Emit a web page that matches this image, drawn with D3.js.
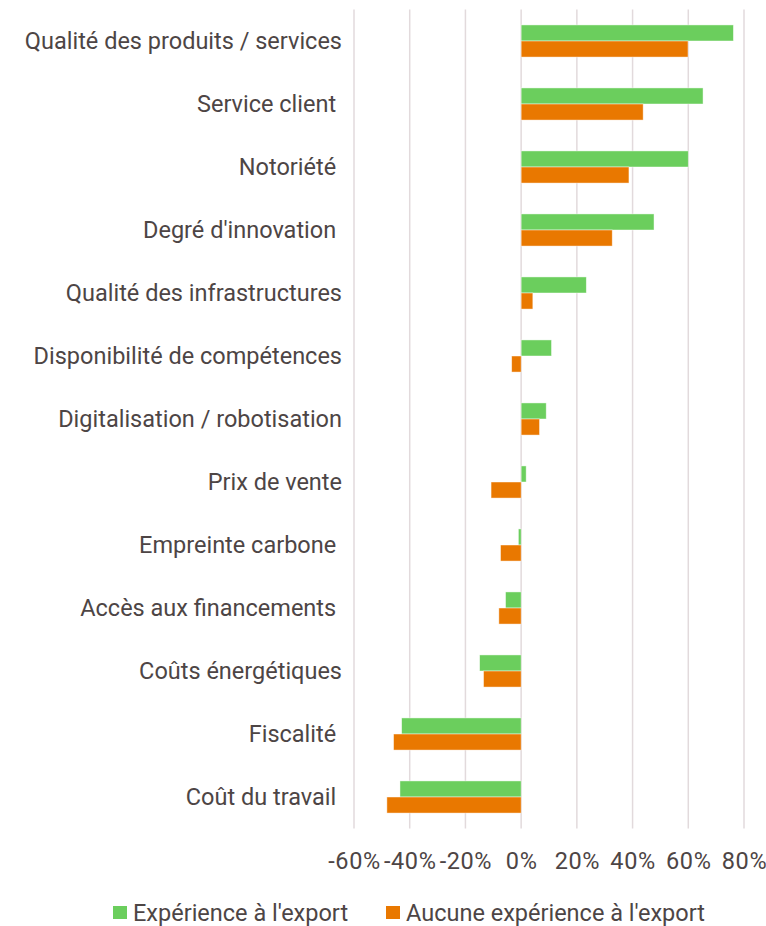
<!DOCTYPE html>
<html>
<head>
<meta charset="utf-8">
<script src="https://cdn.jsdelivr.net/npm/d3@7"></script>
<style>
  html, body { margin: 0; padding: 0; background: #fff; }
  svg text { font-family: Roboto, "Open Sans", sans-serif; fill: #4d4545; white-space: pre; }
</style>
</head>
<body>
<div id="chart"></div>
<script>
// --- Data ---
const categories = [
  "Qualité des produits / services",
  "Service client ",
  "Notoriété ",
  "Degré d'innovation ",
  "Qualité des infrastructures",
  "Disponibilité de compétences",
  "Digitalisation / robotisation",
  "Prix de vente",
  "Empreinte carbone ",
  "Accès aux financements ",
  "Coûts énergétiques",
  "Fiscalité ",
  "Coût du travail "
];
const seriesNames = ["Expérience à l'export", "Aucune expérience à l'export"];
const withExport =    [76.2, 65.3, 60.0, 47.7, 23.4, 10.9, 9.0, 1.8, -1.0, -5.6, -14.9, -42.9, -43.5];
const withoutExport = [59.9, 43.8, 38.7, 32.7, 4.2, -3.4, 6.6, -10.8, -7.4, -8.0, -13.5, -45.8, -48.2];
const tickValues = [-60, -40, -20, 0, 20, 40, 60, 80];
const colors = ["#6bce5d", "#e97800"];

// --- Layout ---
const width = 766, height = 926;
const plot = { left: 354, right: 744, top: 9.5, bottom: 828.5 };
const fontSize = 23.5;

const svg = d3.select("#chart").append("svg")
  .attr("width", width)
  .attr("height", height);

const x = d3.scaleLinear().domain([-60, 80]).range([plot.left, plot.right]);
const y = d3.scaleBand().domain(categories).range([plot.top, plot.bottom]).paddingInner(0.49).paddingOuter(0.245);
const ySeries = d3.scaleBand().domain([0, 1]).range([0, y.bandwidth()]);

// gridlines
svg.append("g").selectAll("line").data(tickValues).enter()
  .append("line")
    .attr("x1", d => x(d)).attr("x2", d => x(d))
    .attr("y1", plot.top).attr("y2", plot.bottom)
    .attr("stroke", "#e2dadc")
    .attr("stroke-width", 1.5);

// bars
const rows = categories.map((c, i) => ({ category: c, values: [withExport[i], withoutExport[i]] }));
const groups = svg.append("g").selectAll("g").data(rows).enter()
  .append("g").attr("transform", d => `translate(0, ${y(d.category)})`);

groups.selectAll("rect").data(d => d.values.map((v, s) => ({ v, s }))).enter()
  .append("rect")
    .attr("x", d => x(Math.min(0, d.v)))
    .attr("y", d => ySeries(d.s))
    .attr("width", d => Math.abs(x(d.v) - x(0)))
    .attr("height", ySeries.bandwidth())
    .attr("fill", d => colors[d.s])
    .attr("stroke", "#fff")
    .attr("stroke-opacity", 0.6)
    .attr("stroke-width", 0.75);

// category labels
svg.append("g").selectAll("text").data(categories).enter()
  .append("text")
    .attr("x", 342)
    .attr("y", d => y(d) + y.bandwidth() / 2)
    .attr("dy", "0.35em")
    .attr("text-anchor", "end")
    .attr("font-size", fontSize)
    .text(d => d);

// x axis labels
const xAxis = d3.axisBottom(x).tickValues(tickValues).tickSize(0).tickPadding(0)
  .tickFormat(d => d + "%");
const axisG = svg.append("g").attr("transform", `translate(0, ${plot.bottom + 24})`).call(xAxis);
axisG.select(".domain").remove();
axisG.selectAll("text")
  .attr("font-size", fontSize)
  .attr("letter-spacing", 0.6)
  .attr("font-family", null)
  .attr("fill", null);

// legend
const legendItems = [
  { name: seriesNames[0], color: colors[0], x: 113 },
  { name: seriesNames[1], color: colors[1], x: 386 }
];
const legend = svg.append("g").selectAll("g").data(legendItems).enter()
  .append("g").attr("transform", d => `translate(${d.x}, 906)`);
legend.append("rect").attr("width", 14).attr("height", 13).attr("fill", d => d.color);
legend.append("text")
  .attr("x", 20).attr("y", 7).attr("dy", "0.35em")
  .attr("font-size", fontSize)
  .text(d => d.name);
</script>
</body>
</html>
